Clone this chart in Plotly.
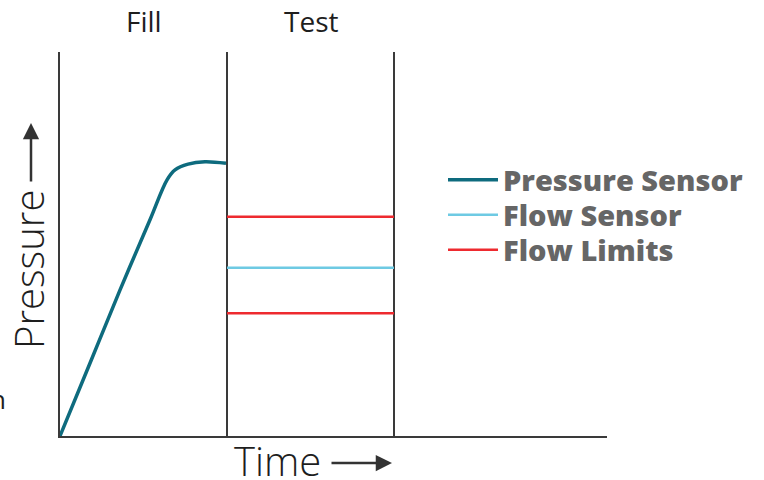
import plotly.graph_objects as go

# ---- data ----
phase_names = ["Fill", "Test"]
phase_edges = [0, 1, 2]  # time units: fill ends at 1, test ends at 2

pressure_t = [0.0, 0.180, 0.359, 0.539, 0.641, 0.689, 0.767, 0.868, 0.994]
pressure_p = [0.0, 0.190, 0.380, 0.563, 0.667, 0.693, 0.708, 0.714, 0.710]

flow_t = [1.0, 2.0]
flow_p = [0.438, 0.438]

limit_upper = 0.571
limit_lower = 0.3195

# ---- layout geometry (pixels) ----
W, H = 764, 480
L, R, T, B = 60, 157, 52, 44
pw, ph = W - L - R, H - T - B
def px(x):
    return (x - L) / pw
def py(y):
    return (H - B - y) / ph

teal = "#0e6b7e"
sky = "#6ecae3"
red = "#ee2a2f"
axis_col = "#3a3a3a"
txt = "#1e1e1e"

fig = go.Figure()
fig.add_trace(go.Scatter(
    x=pressure_t, y=pressure_p, mode="lines", name="Pressure Sensor",
    line=dict(color=teal, width=3.5, shape="spline", smoothing=1.0),
    cliponaxis=False, legend="legend"))
fig.add_trace(go.Scatter(
    x=flow_t, y=flow_p, mode="lines", name="Flow Sensor",
    line=dict(color=sky, width=2.5), legend="legend2"))
fig.add_trace(go.Scatter(
    x=[flow_t[0], flow_t[1], None, flow_t[0], flow_t[1]],
    y=[limit_upper, limit_upper, None, limit_lower, limit_lower],
    mode="lines", name="Flow Limits",
    line=dict(color=red, width=2.5), legend="legend3"))

for e in phase_edges[1:]:
    fig.add_shape(type="line", xref="x", yref="y", x0=e, x1=e, y0=0, y1=1,
                  line=dict(color=axis_col, width=2), layer="below")

annotations = []
for i, name in enumerate(phase_names):
    annotations.append(dict(
        x=(phase_edges[i] + phase_edges[i + 1]) / 2, xref="x",
        y=py(21), yref="paper", text=name, showarrow=False,
        xanchor="center", yanchor="middle",
        font=dict(family="Open Sans", size=28, color=txt)))

annotations.append(dict(
    x=px(277), y=py(460), xref="paper", yref="paper", text="Time",
    showarrow=False, xanchor="center", yanchor="middle",
    font=dict(family="Open Sans", size=40, weight=300, color=txt)))
annotations.append(dict(
    x=px(392), y=py(463), xref="paper", yref="paper", text="",
    showarrow=True, ax=-62, ay=0,
    arrowhead=2, arrowsize=1.3, arrowwidth=2.5, arrowcolor="#333333"))
annotations.append(dict(
    x=px(28), y=py(270), xref="paper", yref="paper", text="Pressure",
    showarrow=False, xanchor="center", yanchor="middle", textangle=-90,
    font=dict(family="Open Sans", size=40, weight=300, color=txt)))
annotations.append(dict(
    x=px(31), y=py(123), xref="paper", yref="paper", text="",
    showarrow=True, ax=0, ay=60,
    arrowhead=2, arrowsize=1.3, arrowwidth=2.5, arrowcolor="#333333"))
annotations.append(dict(
    x=px(8), y=py(399), xref="paper", yref="paper", text="n",
    showarrow=False, xanchor="right", yanchor="middle",
    font=dict(family="Open Sans", size=26, color=txt)))

leg_font = dict(family="Open Sans", size=29, weight=800, color="#666666")
def leg(yc):
    return dict(x=px(443), y=py(yc), xanchor="left", yanchor="middle",
                font=leg_font, itemwidth=50, bgcolor="rgba(0,0,0,0)")

fig.update_layout(
    width=W, height=H,
    margin=dict(l=L, r=R, t=T, b=B),
    paper_bgcolor="white", plot_bgcolor="white",
    xaxis=dict(range=[0, pw / 167], showgrid=False, zeroline=False,
               showticklabels=False, ticks="", showline=True,
               linecolor=axis_col, linewidth=2),
    yaxis=dict(range=[0, 1], showgrid=False, zeroline=False,
               showticklabels=False, ticks="", showline=True,
               linecolor=axis_col, linewidth=2),
    showlegend=True,
    legend=leg(180), legend2=leg(215), legend3=leg(250),
    annotations=annotations,
)

fig.write_html("out.html", config={"displayModeBar": False},
               post_script="document.body.style.margin='0';")
